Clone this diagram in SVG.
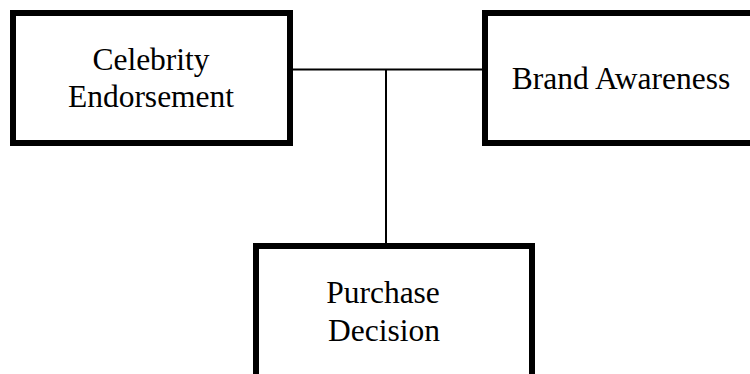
<svg xmlns="http://www.w3.org/2000/svg" width="750" height="374" viewBox="0 0 750 374">
<style>
.box{fill:#fff;stroke:#000;stroke-width:6}
.lbl{font-family:"Liberation Serif","Times New Roman",serif;font-size:31.5px;fill:#000;text-anchor:middle}
.conn{stroke:#000;stroke-width:2;fill:none}
</style>
<rect width="750" height="374" fill="#fff"/>
<g id="connectors">
<line class="conn" x1="293" y1="69.5" x2="482" y2="69.5"/>
<line class="conn" x1="386" y1="69.5" x2="386" y2="244"/>
</g>
<g id="celebrity-endorsement">
<rect class="box" x="13" y="13" width="277" height="130"/>
<text class="lbl" x="151" y="70">Celebrity</text>
<text class="lbl" x="151" y="107">Endorsement</text>
</g>
<g id="brand-awareness">
<rect class="box" x="485" y="13" width="280" height="130"/>
<text class="lbl" x="621" y="89">Brand Awareness</text>
</g>
<g id="purchase-decision">
<rect class="box" x="256" y="246" width="276" height="140"/>
<text class="lbl" x="383" y="303">Purchase</text>
<text class="lbl" x="384" y="341">Decision</text>
</g>
</svg>
